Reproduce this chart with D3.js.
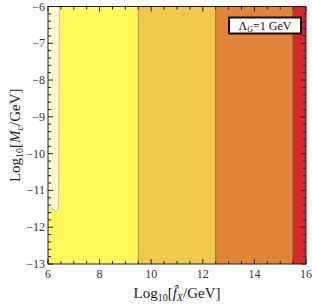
<!DOCTYPE html>
<html>
<head>
<meta charset="utf-8">
<script src="https://cdn.jsdelivr.net/npm/d3@7"></script>
<style>
  body { margin: 0; background: #fff; }
  text { font-family: "Liberation Serif", "DejaVu Serif", serif; }
</style>
</head>
<body>
<svg id="chart" width="312" height="308"></svg>
<script>
// band edges along log10 f_X and their fills
const bandEdges = [6, 9.5, 12.5, 15.5, 16]
const bandColors = ['#fff85f', '#f0c94b', '#e0853a', '#d8262d']
const bandStrokes = ['#b5a640', '#a87d2c', '#8a4a1e']

// pale excluded region boundary (log f_X, log M_c)
const paleX = [6, 6.44, 6.435, 6.425, 6.415, 6.405, 6.39, 6.36, 6.31, 6.24, 6.15, 6.05, 6]
const paleY = [-6, -6, -7.5, -9, -10.5, -11.3, -11.45, -11.55, -11.59, -11.53, -11.49, -11.47, -11.46]

const xTicks = [6, 8, 10, 12, 14, 16]
const yTicks = [-6, -7, -8, -9, -10, -11, -12, -13]

const svg = d3.select('#chart')
const m = {left: 48, right: 306, top: 6.5, bottom: 264}

const x = d3.scaleLinear().domain([6, 16]).range([m.left, m.right])
const y = d3.scaleLinear().domain([-6, -13]).range([m.top, m.bottom])

// --- bands
const g = svg.append('g')
g.selectAll('rect.band')
  .data(bandColors)
  .join('rect')
  .attr('class', 'band')
  .attr('x', (d, i) => x(bandEdges[i]))
  .attr('width', (d, i) => x(bandEdges[i + 1]) - x(bandEdges[i]))
  .attr('y', y(-6))
  .attr('height', y(-13) - y(-6))
  .attr('fill', d => d)

g.selectAll('line.edge')
  .data(bandStrokes)
  .join('line')
  .attr('class', 'edge')
  .attr('x1', (d, i) => x(bandEdges[i + 1]))
  .attr('x2', (d, i) => x(bandEdges[i + 1]))
  .attr('y1', y(-6))
  .attr('y2', y(-13))
  .attr('stroke', d => d)
  .attr('stroke-width', 1.2)

// pale region
const pts = paleX.map((v, i) => [x(v), y(paleY[i])])
g.append('path')
  .attr('d', d3.line().curve(d3.curveLinear)(pts) + 'Z')
  .attr('fill', '#fffcd3')
g.append('path')
  .attr('d', d3.line().curve(d3.curveCatmullRom)(pts.slice(1)))
  .attr('fill', 'none')
  .attr('stroke', '#c9c495')
  .attr('stroke-width', 1)

// --- frame and ticks
svg.append('rect')
  .attr('x', m.left).attr('y', m.top)
  .attr('width', m.right - m.left).attr('height', m.bottom - m.top)
  .attr('fill', 'none').attr('stroke', '#222').attr('stroke-width', 1)

const xMinor = d3.range(6, 16.01, 0.5)
const yMinor = d3.range(-13, -5.99, 0.2)
const ticks = svg.append('g').attr('stroke', '#222').attr('stroke-width', 1)
xMinor.forEach(v => {
  const major = Math.abs(v - Math.round(v)) < 1e-6 && Math.round(v) % 2 === 0
  const len = major ? 5 : 3
  ticks.append('line').attr('x1', x(v)).attr('x2', x(v)).attr('y1', m.bottom).attr('y2', m.bottom - len)
  ticks.append('line').attr('x1', x(v)).attr('x2', x(v)).attr('y1', m.top).attr('y2', m.top + len)
})
yMinor.forEach(v => {
  const major = Math.abs(v - Math.round(v)) < 1e-6
  const len = major ? 5 : 3
  ticks.append('line').attr('y1', y(v)).attr('y2', y(v)).attr('x1', m.left).attr('x2', m.left + len)
  ticks.append('line').attr('y1', y(v)).attr('y2', y(v)).attr('x1', m.right).attr('x2', m.right - len)
})

svg.append('g').selectAll('text')
  .data(xTicks)
  .join('text')
  .attr('x', d => x(d))
  .attr('y', m.bottom + 14)
  .attr('text-anchor', 'middle')
  .attr('font-size', 12)
  .attr('fill', '#333')
  .text(d => d)

svg.append('g').selectAll('text')
  .data(yTicks)
  .join('text')
  .attr('x', m.left - 3)
  .attr('y', d => y(d) + 4)
  .attr('text-anchor', 'end')
  .attr('font-size', 12)
  .attr('fill', '#333')
  .text(d => '\u2212' + Math.abs(d))

// axis labels
const xl = svg.append('text')
  .attr('x', 177).attr('y', 298)
  .attr('text-anchor', 'middle')
  .attr('font-size', 15)
  .attr('fill', '#222')
xl.append('tspan').text('Log')
xl.append('tspan').attr('font-size', 10).attr('dy', 3).text('10')
xl.append('tspan').attr('dy', -3).text('[')
xl.append('tspan').attr('font-style', 'italic').text('f\u0302')
xl.append('tspan').attr('font-style', 'italic').attr('font-size', 10).attr('dy', 3).text('X')
xl.append('tspan').attr('dy', -3).text('/GeV]')

const yl = svg.append('text')
  .attr('transform', `translate(20,${(m.top + m.bottom) / 2}) rotate(-90)`)
  .attr('text-anchor', 'middle')
  .attr('font-size', 15)
  .attr('fill', '#222')
yl.append('tspan').text('Log')
yl.append('tspan').attr('font-size', 10).attr('dy', 3).text('10')
yl.append('tspan').attr('dy', -3).text('[')
yl.append('tspan').attr('font-style', 'italic').text('M')
yl.append('tspan').attr('font-style', 'italic').attr('font-size', 10).attr('dy', 3).text('c')
yl.append('tspan').attr('dy', -3).text('/GeV]')

// legend box
svg.append('rect')
  .attr('x', 229).attr('y', 17.5)
  .attr('width', 72).attr('height', 16)
  .attr('fill', '#fff').attr('stroke', '#111').attr('stroke-width', 2)
const lt = svg.append('text')
  .attr('x', 265).attr('y', 30)
  .attr('text-anchor', 'middle')
  .attr('font-size', 12)
  .attr('fill', '#111')
lt.append('tspan').text('\u039B')
lt.append('tspan').attr('font-style', 'italic').attr('font-size', 8).attr('dy', 2).text('G')
lt.append('tspan').attr('dy', -2).text('=1 GeV')
</script>
</body>
</html>
